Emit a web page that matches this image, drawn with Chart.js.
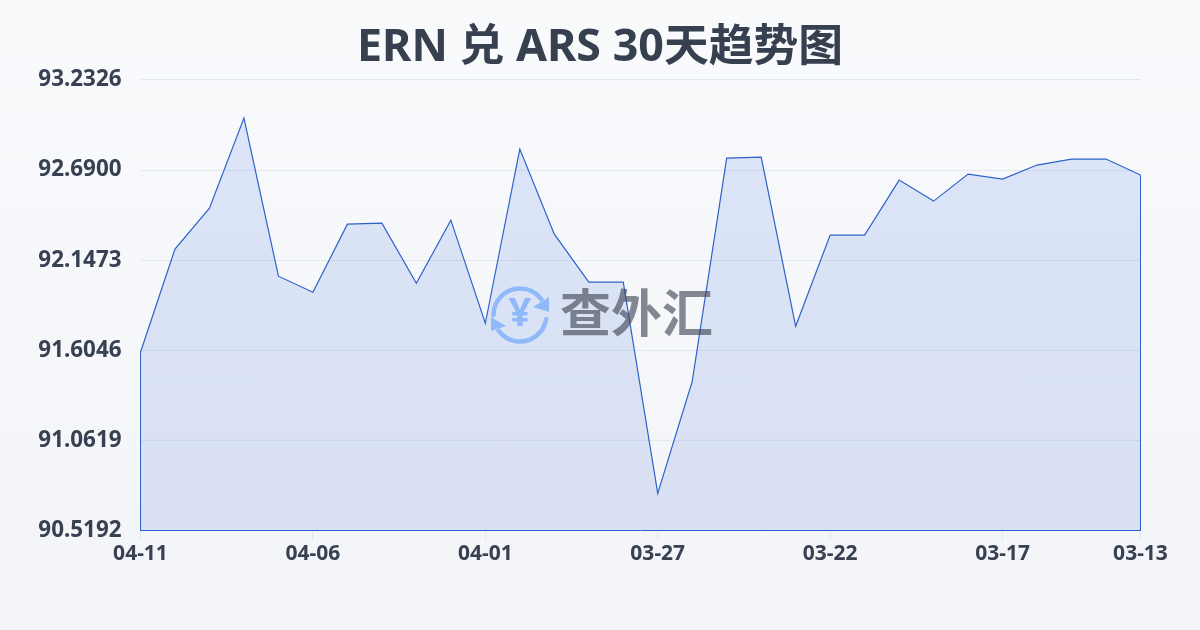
<!DOCTYPE html>
<html>
<head>
<meta charset="utf-8">
<script src="https://cdn.jsdelivr.net/npm/chart.js@4"></script>
<style>
  body { margin: 0; width: 1200px; height: 630px; overflow: hidden; background: linear-gradient(180deg, #f8fafc 0%, #f2f4f7 100%); }
  canvas { display: block; }
</style>
</head>
<body>
<canvas id="rateChart" width="1200" height="630"></canvas>
<script>
const titleText = "ERN 兑 ARS 30天趋势图";
const watermarkText = "查外汇";
const dates = ["04-11","04-10","04-09","04-08","04-07","04-06","04-05","04-04","04-03","04-02","04-01","03-31","03-30","03-29","03-28","03-27","03-26","03-25","03-24","03-23","03-22","03-21","03-20","03-19","03-18","03-17","03-16","03-15","03-14","03-13"];
const rates = [91.5925,92.2136,92.4608,93.0035,92.0508,91.9543,92.3643,92.3703,92.0085,92.3884,91.7674,92.8165,92.3040,92.0146,92.0146,90.7423,91.4176,92.7623,92.7683,91.7493,92.2980,92.2980,92.6296,92.5030,92.6658,92.6356,92.7201,92.7562,92.7562,92.6598];
const yTicks = [90.5192,91.0619,91.6046,92.1473,92.6900,93.2326];
const xTickDates = ["04-11","04-06","04-01","03-27","03-22","03-17","03-13"];

const lineColor = "#2f62c8";
const labelColor = "#374151";
const fontFamily = '"Noto Sans", "Noto Sans CJK SC", sans-serif';

// closes the outline down the two sides of the area
const areaSides = {
  id: "areaSides",
  afterDatasetsDraw(chart) {
    const pts = chart.getDatasetMeta(0).data;
    const first = pts[0], last = pts[pts.length - 1];
    const bottom = chart.scales.y.getPixelForValue(yTicks[0]);
    const c = chart.ctx;
    c.save();
    c.strokeStyle = lineColor;
    c.lineWidth = 1;
    c.beginPath();
    c.moveTo(first.x, first.y);
    c.lineTo(first.x, bottom);
    c.moveTo(last.x, last.y);
    c.lineTo(last.x, bottom);
    c.stroke();
    c.restore();
  }
};

// logo + name, translucent over the fill
const watermark = {
  id: "watermark",
  afterDatasetsDraw(chart) {
    const c = chart.ctx;
    c.save();
    c.strokeStyle = "#90b9fa";
    c.fillStyle = "#90b9fa";
    c.lineWidth = 4.5;
    c.lineCap = "round";
    c.beginPath();
    c.arc(520, 315, 26.5, Math.PI * 1.0, Math.PI * 1.8);
    c.stroke();
    c.beginPath();
    c.arc(520, 315, 26.5, Math.PI * 0.05, Math.PI * 0.8);
    c.stroke();
    c.beginPath();
    c.moveTo(549, 297); c.lineTo(549, 312); c.lineTo(533, 307); c.closePath();
    c.fill();
    c.beginPath();
    c.moveTo(491, 317); c.lineTo(491, 331); c.lineTo(506, 326); c.closePath();
    c.fill();
    c.textAlign = "center";
    c.textBaseline = "middle";
    c.font = 'bold 40px ' + fontFamily;
    c.fillText("¥", 520, 315);
    c.fillStyle = "rgba(60,66,80,0.62)";
    c.font = 'bold 51px ' + fontFamily;
    c.textAlign = "left";
    c.fillText(watermarkText, 560, 317);
    c.restore();
  }
};

new Chart(document.getElementById("rateChart"), {
  type: "line",
  data: {
    labels: dates,
    datasets: [{
      data: rates,
      borderColor: lineColor,
      borderWidth: 1.2,
      pointRadius: 0,
      tension: 0,
      fill: "start",
      backgroundColor: (ctx) => {
        const area = ctx.chart.chartArea;
        if (!area) return "rgba(37,99,235,0.13)";
        const g = ctx.chart.ctx.createLinearGradient(0, area.top, 0, area.bottom);
        g.addColorStop(0, "rgba(37,99,235,0.13)");
        g.addColorStop(1, "rgba(37,80,200,0.13)");
        return g;
      }
    }]
  },
  options: {
    responsive: false,
    animation: false,
    plugins: {
      legend: { display: false },
      tooltip: { enabled: false },
      title: {
        display: true,
        text: titleText,
        color: "#36404f",
        font: { family: fontFamily, size: 44.8, weight: "bold" },
        padding: { top: 21, bottom: 5.2 }
      }
    },
    scales: {
      x: {
        offset: false,
        border: { color: lineColor, width: 1 },
        grid: { drawOnChartArea: false, tickLength: 10, tickColor: "#e2e8f0" },
        ticks: {
          color: labelColor,
          font: { family: fontFamily, size: 21, weight: "bold" },
          padding: 1,
          maxRotation: 0,
          autoSkip: false
        },
        afterBuildTicks(scale) {
          scale.ticks = scale.ticks.filter(t => xTickDates.includes(dates[t.value]));
        },
        afterFit(scale) { scale.height = 99.5; }
      },
      y: {
        min: yTicks[0],
        max: yTicks[yTicks.length - 1],
        border: { display: false },
        grid: { color: "#e2e8f0", drawTicks: false },
        ticks: {
          color: labelColor,
          font: { family: fontFamily, size: 22.4, weight: "bold" },
          padding: 19,
          callback: (v) => v.toFixed(4)
        },
        afterBuildTicks(scale) {
          scale.ticks = yTicks.map(v => ({ value: v }));
        },
        afterFit(scale) { scale.width = 140.5; }
      },
      // empty axis, only keeps the right margin
      yRight: {
        position: "right",
        min: yTicks[0],
        max: yTicks[yTicks.length - 1],
        border: { display: false },
        grid: { display: false },
        ticks: { display: false },
        afterFit(scale) { scale.width = 59.5; }
      }
    }
  },
  plugins: [areaSides, watermark]
});
</script>
</body>
</html>
